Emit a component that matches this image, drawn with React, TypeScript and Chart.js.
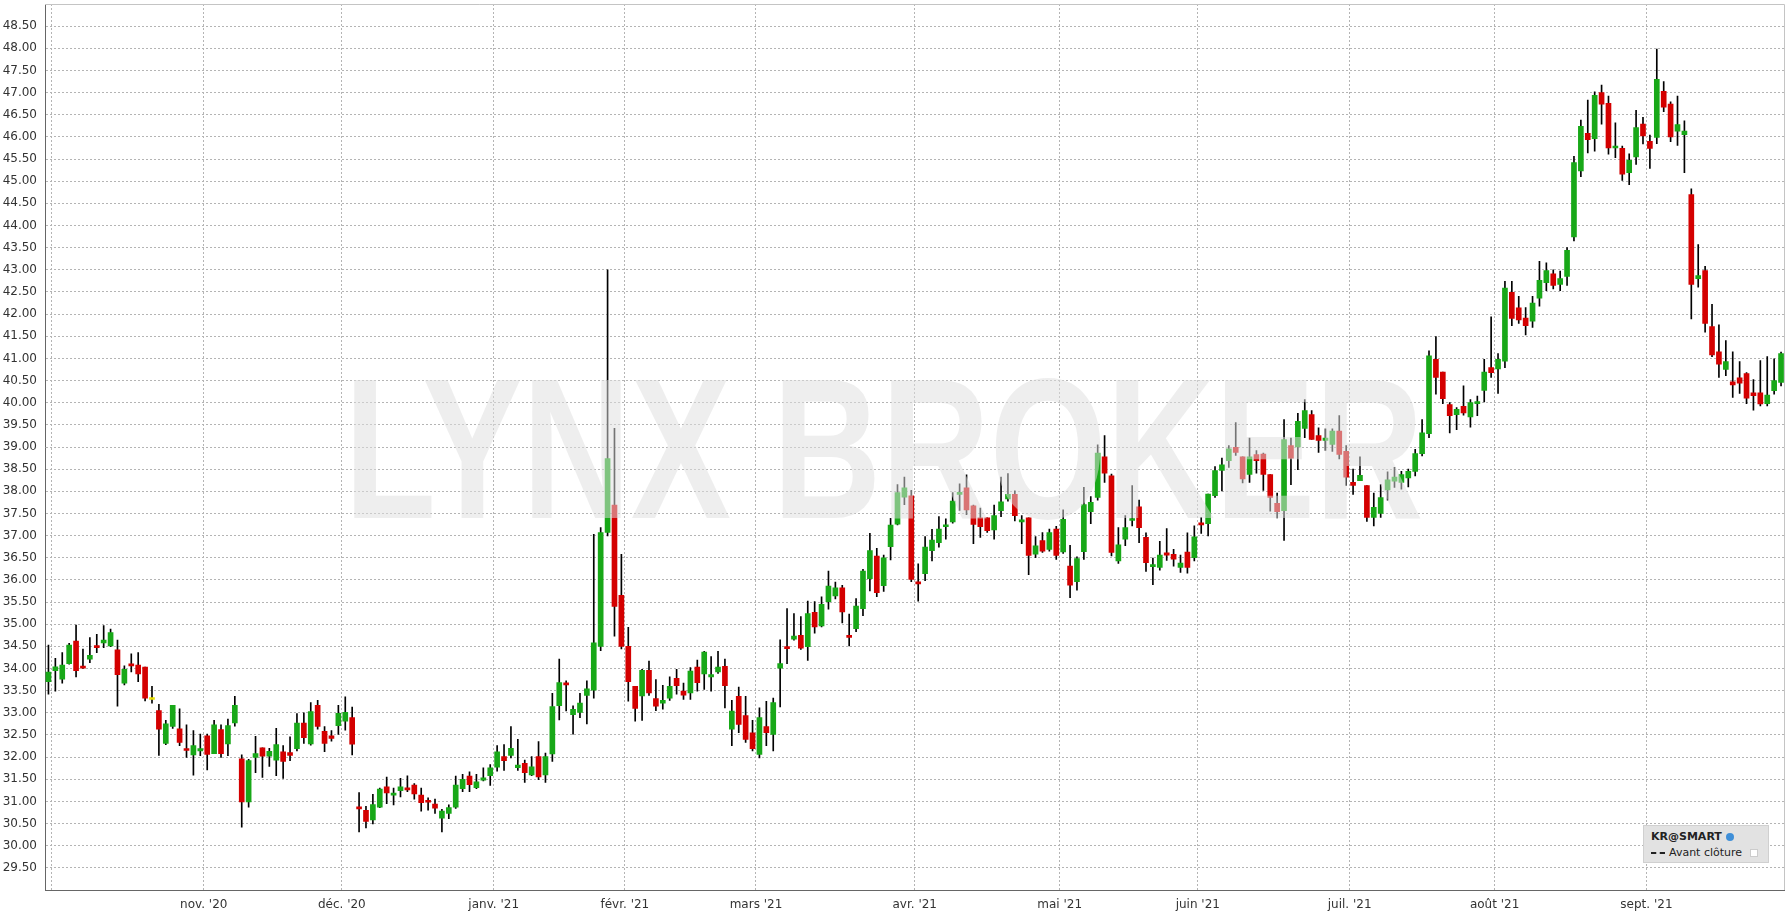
import React, { useEffect, useRef } from 'react';
import { Chart, registerables } from 'chart.js';

Chart.register(...registerables);

// Daily candles, 30 Sep 2020 .. 29 Sep 2021 (index = trading day)
const OPEN = [
  33.70, 33.95, 33.76, 34.11, 34.62, 34.05, 34.21, 34.51, 34.58, 34.51,
  34.42, 33.67, 34.10, 34.08, 34.03, 33.30, 33.05, 32.31, 32.69, 32.64,
  32.18, 32.05, 32.14, 32.48, 32.08, 32.62, 32.30, 32.77, 31.96, 30.99,
  31.99, 32.21, 32.02, 31.93, 32.12, 32.10, 32.19, 32.77, 32.30, 33.17,
  32.58, 32.48, 32.71, 32.81, 32.89, 30.86, 30.80, 30.58, 30.87, 31.33,
  31.14, 31.24, 31.30, 31.37, 31.14, 31.02, 30.94, 30.62, 30.73, 30.87,
  31.29, 31.57, 31.31, 31.48, 31.58, 31.77, 32.01, 32.04, 31.76, 31.86,
  31.60, 32.01, 31.60, 32.07, 33.16, 33.67, 32.96, 33.01, 33.39, 33.51,
  34.50, 37.07, 37.69, 35.65, 34.50, 33.60, 33.38, 33.96, 33.32, 33.22,
  33.33, 33.78, 33.49, 33.45, 34.03, 33.88, 33.81, 33.92, 34.05, 32.63,
  33.37, 32.94, 32.55, 32.06, 32.69, 32.51, 34.01, 34.49, 34.66, 34.75,
  34.49, 35.27, 34.96, 35.51, 35.64, 35.82, 34.75, 34.90, 35.35, 36.03,
  36.54, 35.87, 36.75, 37.26, 37.87, 37.90, 35.94, 36.14, 36.66, 36.84,
  37.20, 37.31, 37.93, 38.08, 37.67, 37.40, 37.40, 37.13, 37.56, 37.83,
  37.93, 37.31, 37.40, 36.58, 36.89, 36.69, 37.15, 36.63, 36.31, 35.96,
  36.64, 37.54, 37.86, 38.78, 38.35, 36.43, 36.92, 37.34, 37.65, 36.96,
  36.30, 36.28, 36.61, 36.58, 36.28, 36.63, 36.50, 37.29, 37.27, 37.90,
  38.47, 38.69, 38.99, 38.78, 38.38, 38.83, 38.84, 38.38, 37.73, 37.56,
  39.03, 39.00, 39.42, 39.73, 39.26, 39.15, 39.06, 39.36, 38.90, 38.20,
  38.24, 38.13, 37.41, 37.50, 38.03, 38.23, 38.20, 38.30, 38.45, 38.85,
  39.30, 40.98, 40.69, 39.96, 39.73, 39.92, 39.68, 39.98, 40.28, 40.79,
  40.76, 40.94, 42.49, 42.14, 41.91, 41.84, 42.36, 42.71, 42.91, 42.67,
  42.85, 43.74, 45.23, 46.08, 45.96, 47.00, 46.76, 45.75, 45.74, 45.19,
  45.55, 46.29, 45.90, 45.99, 47.03, 46.74, 46.13, 46.05, 44.70, 42.80,
  42.98, 41.72, 41.15, 40.75, 40.47, 40.56, 40.66, 40.22, 40.22, 39.98,
  40.27, 40.46,
];
const HIGH = [
  34.53, 34.23, 34.36, 34.57, 34.98, 34.44, 34.70, 34.77, 34.97, 34.89,
  34.64, 34.06, 34.33, 34.36, 34.03, 33.60, 33.19, 32.83, 33.17, 33.09,
  32.73, 32.60, 32.52, 32.52, 32.83, 32.73, 32.86, 33.37, 32.05, 31.95,
  32.47, 32.21, 32.20, 32.65, 32.26, 32.46, 32.98, 33.00, 33.23, 33.28,
  32.69, 32.60, 33.17, 33.36, 33.13, 31.20, 30.89, 31.16, 31.30, 31.55,
  31.30, 31.52, 31.58, 31.40, 31.30, 31.08, 31.05, 30.82, 30.92, 31.57,
  31.61, 31.67, 31.61, 31.76, 31.83, 32.26, 32.28, 32.69, 32.40, 31.93,
  32.01, 32.35, 32.09, 33.44, 34.21, 33.72, 33.16, 33.44, 33.72, 37.03,
  37.18, 43.00, 39.42, 36.58, 34.93, 33.60, 33.98, 34.17, 33.75, 33.62,
  33.81, 33.98, 33.67, 34.02, 34.19, 34.39, 34.27, 34.39, 34.21, 33.28,
  33.58, 33.37, 32.83, 33.11, 33.26, 33.33, 34.65, 35.35, 35.24, 35.17,
  35.52, 35.51, 35.62, 36.20, 35.95, 35.88, 35.23, 35.58, 36.24, 37.05,
  36.71, 36.56, 37.39, 38.15, 38.32, 38.02, 36.36, 36.98, 37.14, 37.43,
  37.38, 37.97, 38.17, 38.37, 37.69, 37.62, 37.40, 37.69, 38.32, 38.40,
  38.01, 37.45, 37.40, 36.98, 37.07, 37.15, 37.21, 37.58, 36.78, 36.52,
  38.09, 37.88, 39.05, 39.26, 38.39, 37.18, 37.45, 38.13, 37.80, 37.06,
  36.49, 36.87, 37.16, 36.69, 36.56, 37.06, 37.22, 37.41, 37.94, 38.56,
  38.75, 39.03, 39.55, 38.78, 39.20, 38.92, 38.86, 38.38, 37.96, 39.62,
  39.20, 39.76, 40.07, 39.82, 39.43, 39.41, 39.41, 39.71, 39.03, 38.50,
  38.78, 38.13, 37.96, 38.15, 38.44, 38.54, 38.45, 38.50, 38.95, 39.62,
  41.17, 41.49, 40.69, 40.00, 39.89, 40.38, 40.07, 40.15, 40.98, 41.94,
  41.11, 42.74, 42.74, 42.40, 42.15, 42.40, 43.19, 43.16, 43.00, 42.97,
  43.50, 45.56, 46.38, 46.83, 47.02, 47.17, 46.92, 46.32, 45.79, 45.62,
  46.60, 46.44, 46.04, 47.98, 47.25, 46.79, 46.92, 46.36, 44.83, 43.57,
  43.08, 42.22, 41.76, 41.40, 41.15, 40.93, 40.68, 40.52, 40.95, 41.04,
  40.99, 41.14,
];
const LOW = [
  33.42, 33.49, 33.67, 34.10, 33.81, 34.00, 34.13, 34.36, 34.47, 34.49,
  33.15, 33.63, 33.92, 33.70, 33.27, 33.22, 32.04, 32.28, 32.65, 32.26,
  31.99, 31.59, 32.03, 31.71, 32.08, 31.99, 32.03, 32.70, 30.42, 30.87,
  31.65, 31.54, 31.79, 31.58, 31.52, 31.92, 32.14, 32.31, 32.27, 32.63,
  32.12, 32.36, 32.51, 32.61, 32.05, 30.31, 30.40, 30.49, 30.86, 30.95,
  30.92, 31.10, 31.22, 31.05, 30.78, 30.80, 30.73, 30.31, 30.61, 30.84,
  31.22, 31.22, 31.29, 31.46, 31.36, 31.68, 31.70, 31.98, 31.70, 31.43,
  31.58, 31.49, 31.43, 31.90, 32.84, 33.04, 32.52, 32.89, 32.75, 33.33,
  34.40, 36.99, 34.73, 34.44, 33.26, 32.81, 32.83, 33.39, 33.05, 33.08,
  33.28, 33.42, 33.30, 33.30, 33.49, 33.53, 33.49, 33.89, 33.11, 32.26,
  32.55, 32.33, 32.14, 31.98, 32.26, 32.14, 33.13, 34.11, 34.64, 34.43,
  34.18, 34.80, 34.94, 35.34, 35.57, 35.03, 34.51, 34.83, 35.19, 35.75,
  35.62, 35.74, 36.45, 37.24, 37.70, 35.96, 35.52, 35.98, 36.43, 36.74,
  36.92, 37.28, 37.57, 37.47, 36.82, 36.96, 37.07, 36.92, 37.43, 37.78,
  37.33, 36.82, 36.12, 36.50, 36.62, 36.65, 36.46, 36.60, 35.60, 35.77,
  36.46, 37.27, 37.80, 38.20, 36.54, 36.37, 36.77, 37.22, 36.84, 36.19,
  35.89, 36.22, 36.44, 36.31, 36.17, 36.15, 36.43, 37.05, 36.99, 37.86,
  38.01, 38.54, 38.81, 38.19, 38.20, 38.41, 38.02, 37.55, 37.40, 36.89,
  38.15, 38.49, 39.21, 39.17, 38.88, 38.92, 38.90, 38.73, 38.13, 37.93,
  38.24, 37.32, 37.22, 37.41, 37.80, 38.09, 38.05, 38.10, 38.35, 38.80,
  39.21, 40.19, 39.98, 39.32, 39.39, 39.72, 39.45, 39.71, 40.02, 40.57,
  40.21, 40.79, 41.74, 41.79, 41.53, 41.70, 42.18, 42.53, 42.57, 42.53,
  42.65, 43.65, 45.10, 45.64, 45.68, 46.29, 45.61, 45.53, 45.02, 44.92,
  45.38, 45.84, 45.29, 45.85, 46.57, 45.89, 45.81, 45.19, 41.89, 42.61,
  41.59, 41.04, 40.57, 40.61, 40.12, 40.21, 39.98, 39.83, 39.93, 39.93,
  40.19, 40.38,
];
const CLOSE = [
  33.92, 34.04, 34.08, 34.53, 33.95, 34.01, 34.30, 34.47, 34.64, 34.81,
  33.86, 33.98, 34.06, 33.88, 33.33, 33.30, 32.63, 32.75, 33.17, 32.33,
  32.15, 32.26, 32.19, 32.06, 32.73, 32.08, 32.71, 33.17, 30.99, 31.92,
  32.08, 32.02, 32.13, 32.28, 31.90, 32.04, 32.77, 32.44, 33.03, 32.69,
  32.31, 32.42, 32.99, 33.01, 32.29, 30.83, 30.55, 30.93, 31.28, 31.19,
  31.19, 31.33, 31.26, 31.17, 30.97, 30.98, 30.85, 30.78, 30.86, 31.37,
  31.50, 31.38, 31.44, 31.53, 31.76, 32.12, 31.92, 32.20, 31.82, 31.65,
  31.78, 31.55, 32.01, 33.14, 33.68, 33.63, 33.08, 33.22, 33.54, 34.58,
  37.07, 38.74, 35.40, 34.50, 33.70, 33.10, 33.96, 33.45, 33.15, 33.28,
  33.60, 33.61, 33.40, 33.94, 33.68, 34.37, 33.86, 34.03, 33.61, 33.04,
  32.74, 32.40, 32.19, 32.89, 32.55, 33.23, 34.11, 34.45, 34.73, 34.46,
  35.24, 34.94, 35.45, 35.86, 35.82, 35.28, 34.70, 35.41, 36.20, 36.66,
  35.71, 36.50, 37.24, 37.97, 38.08, 36.01, 35.91, 36.74, 36.90, 37.15,
  37.24, 37.78, 37.97, 37.58, 37.25, 37.20, 37.11, 37.45, 37.76, 37.93,
  37.45, 37.35, 36.55, 36.77, 36.65, 37.07, 36.55, 37.37, 35.88, 36.48,
  37.70, 37.75, 38.86, 38.41, 36.62, 36.79, 37.18, 37.38, 37.18, 36.39,
  36.34, 36.56, 36.56, 36.47, 36.38, 36.28, 36.97, 37.24, 37.94, 38.47,
  38.60, 38.96, 38.88, 38.28, 38.78, 38.69, 38.38, 37.86, 37.54, 39.17,
  38.75, 39.58, 39.82, 39.17, 39.15, 39.20, 39.36, 38.83, 38.32, 38.13,
  38.36, 37.41, 37.64, 37.86, 38.26, 38.32, 38.38, 38.45, 38.85, 39.32,
  41.06, 40.57, 40.09, 39.71, 39.85, 39.77, 40.00, 40.02, 40.69, 40.68,
  40.98, 42.59, 41.90, 41.87, 41.74, 42.25, 42.76, 42.98, 42.65, 42.80,
  43.44, 45.42, 46.24, 45.94, 46.94, 46.74, 45.75, 45.79, 45.16, 45.47,
  46.21, 46.02, 45.74, 47.30, 46.67, 46.00, 46.28, 46.13, 42.67, 42.87,
  41.79, 41.08, 40.87, 40.93, 40.40, 40.44, 40.10, 40.16, 39.97, 40.17,
  40.50, 41.11,
];

// first trading day of each month (index into the series) and its label
const MONTH_START_INDEX = [1, 23, 43, 65, 84, 103, 126, 147, 167, 189, 210, 232];
const MONTH_LABELS = ['', "nov. '20", "déc. '20", "janv. '21", "févr. '21", "mars '21", "avr. '21", "mai '21", "juin '21", "juil. '21", "août '21", "sept. '21"];

const Y_TICK_VALUES = [
  29.5, 30, 30.5, 31, 31.5, 32, 32.5, 33, 33.5, 34, 34.5, 35, 35.5, 36, 36.5, 37,
  37.5, 38, 38.5, 39, 39.5, 40, 40.5, 41, 41.5, 42, 42.5, 43, 43.5, 44, 44.5, 45,
  45.5, 46, 46.5, 47, 47.5, 48, 48.5,
];
const Y_MIN = 29;
const Y_MAX = 49;

const WATERMARK = 'LYNX BROKER';
const LEGEND_SYMBOL = 'KR@SMART';
const LEGEND_SERIES = 'Avant clôture';

const GREEN = '#18a818';
const RED = '#d40000';
const YELLOW = '#e8e000';

const watermarkPlugin = {
  id: 'watermark',
  afterDatasetsDraw(chart: any) {
    const ctx = chart.ctx;
    ctx.save();
    ctx.font = 'bold 200px "Liberation Sans", Arial, sans-serif';
    ctx.textBaseline = 'alphabetic';
    const m = ctx.measureText(WATERMARK);
    const w = m.actualBoundingBoxLeft + m.actualBoundingBoxRight;
    const h = m.actualBoundingBoxAscent;
    const targetW = 1067;
    const targetH = 141;
    ctx.translate(354, 518);
    ctx.scale(targetW / w, targetH / h);
    ctx.fillStyle = 'rgba(222,222,222,0.52)';
    ctx.fillText(WATERMARK, m.actualBoundingBoxLeft, 0);
    ctx.restore();
  },
};

const framePlugin = {
  id: 'frame',
  afterDraw(chart: any) {
    const { ctx, chartArea } = chart;
    ctx.save();
    ctx.strokeStyle = '#c4c4c4';
    ctx.lineWidth = 1;
    ctx.beginPath();
    ctx.moveTo(chartArea.left, Math.floor(chartArea.top) + 0.5);
    ctx.lineTo(Math.floor(chartArea.right) + 0.5, Math.floor(chartArea.top) + 0.5);
    ctx.lineTo(Math.floor(chartArea.right) + 0.5, chartArea.bottom);
    ctx.stroke();
    ctx.restore();
  },
};

export default function App() {
  const ref = useRef<HTMLCanvasElement | null>(null);

  useEffect(() => {
    if (!ref.current) return;
    const n = OPEN.length;
    const idx = OPEN.map((_, i) => i);
    const colors = idx.map((i) =>
      CLOSE[i] > OPEN[i] ? GREEN : CLOSE[i] < OPEN[i] ? RED : YELLOW,
    );
    const chart = new Chart(ref.current, {
      type: 'bar',
      data: {
        datasets: [
          {
            label: 'body',
            data: idx.map((i) => ({
              x: i,
              y: [Math.min(OPEN[i], CLOSE[i]), Math.max(OPEN[i], CLOSE[i])],
            })) as any,
            backgroundColor: colors,
            borderWidth: 0,
            barThickness: 5,
            minBarLength: 2,
            grouped: false,
            order: 1,
          } as any,
          {
            label: 'wick',
            data: idx.map((i) => ({ x: i, y: [LOW[i], HIGH[i]] })) as any,
            backgroundColor: '#000000',
            borderWidth: 0,
            barThickness: 1,
            grouped: false,
            order: 2,
          } as any,
        ],
      },
      options: {
        animation: false,
        responsive: false,
        maintainAspectRatio: false,
        events: [],
        layout: { padding: { left: 0, top: 4, right: 5.5, bottom: 0 } },
        plugins: {
          legend: { display: false },
          tooltip: { enabled: false },
        },
        scales: {
          x: {
            type: 'linear',
            bounds: 'data',
            offset: false,
            min: -0.5,
            max: n - 0.5,
            afterBuildTicks: (s: any) => {
              s.ticks = MONTH_START_INDEX.map((v) => ({ value: v - 0.5 }));
            },
            afterFit: (s: any) => {
              s.height = 30;
              s.paddingLeft = 0;
              s.paddingRight = 0;
            },
            ticks: {
              autoSkip: false,
              maxRotation: 0,
              minRotation: 0,
              padding: 8,
              color: '#333333',
              font: { family: '"DejaVu Sans", Verdana, sans-serif', size: 12 },
              callback: (_v: any, i: number) => MONTH_LABELS[i],
            },
            grid: { color: '#b4b4b4', lineWidth: 1, drawTicks: false, offset: false },
            border: { display: true, color: '#666666', width: 1, dash: [2, 2] },
          },
          y: {
            type: 'linear',
            bounds: 'data',
            min: Y_MIN,
            max: Y_MAX,
            afterBuildTicks: (s: any) => {
              s.ticks = Y_TICK_VALUES.map((v) => ({ value: v }));
            },
            afterFit: (s: any) => {
              s.width = 45;
              s.paddingTop = 0;
              s.paddingBottom = 0;
            },
            ticks: {
              autoSkip: false,
              padding: 8,
              color: '#333333',
              font: { family: '"DejaVu Sans", Verdana, sans-serif', size: 12 },
              callback: (v: any) => Number(v).toFixed(2),
            },
            grid: { color: '#b4b4b4', lineWidth: 1, drawTicks: false },
            border: { display: true, color: '#666666', width: 1, dash: [2, 2] },
          },
        },
      } as any,
      plugins: [watermarkPlugin, framePlugin],
    });
    return () => chart.destroy();
  }, []);

  return (
    <div
      style={{
        position: 'fixed',
        left: 0,
        top: 0,
        width: 1790,
        height: 920,
        background: '#ffffff',
      }}
    >
      <canvas ref={ref} width={1790} height={920} style={{ display: 'block' }} />
      <div
        style={{
          position: 'absolute',
          left: 1643,
          top: 825,
          width: 126,
          height: 38,
          background: '#e2e2e2',
          border: '1px solid #d0d0d0',
          fontFamily: '"DejaVu Sans", Verdana, sans-serif',
          fontSize: 11,
          color: '#222',
          boxSizing: 'border-box',
        }}
      >
        <div style={{ position: 'absolute', left: 7, top: 4, fontWeight: 'bold' }}>
          {LEGEND_SYMBOL}
          <span
            style={{
              display: 'inline-block',
              width: 8,
              height: 8,
              borderRadius: 4,
              background: '#3f8fd8',
              marginLeft: 4,
              verticalAlign: 'middle',
            }}
          />
        </div>
        <div style={{ position: 'absolute', left: 7, top: 20, display: 'flex', alignItems: 'center' }}>
          <span style={{ display: 'inline-block', width: 14, borderTop: '2px dashed #222', marginRight: 4 }} />
          <span>{LEGEND_SERIES}</span>
          <span
            style={{
              display: 'inline-block',
              width: 6,
              height: 6,
              background: '#fff',
              border: '1px solid #ccc',
              marginLeft: 8,
            }}
          />
        </div>
      </div>
    </div>
  );
}
